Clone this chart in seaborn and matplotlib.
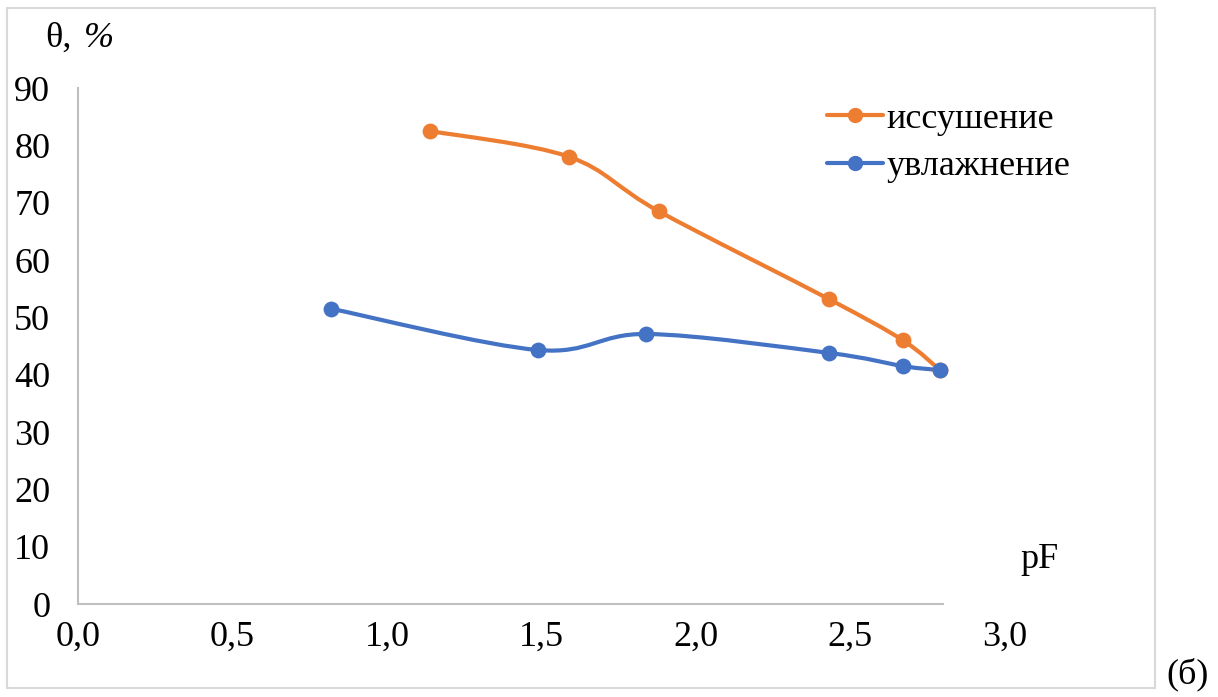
import numpy as np
import matplotlib
matplotlib.use("Agg")
import matplotlib.pyplot as plt
from matplotlib.path import Path
from matplotlib.patches import PathPatch, Rectangle
from matplotlib.lines import Line2D
import seaborn as sns

# data
pf_dry = [1.14, 1.59, 1.88, 2.43, 2.67, 2.79]
theta_dry = [82.5, 78.0, 68.5, 53.2, 46.0, 40.8]
pf_wet = [0.82, 1.49, 1.84, 2.43, 2.67, 2.79]
theta_wet = [51.5, 44.3, 47.1, 43.8, 41.5, 40.8]
x_ticks = [0.0, 0.5, 1.0, 1.5, 2.0, 2.5, 3.0]
y_ticks = [0, 10, 20, 30, 40, 50, 60, 70, 80, 90]
labels = ["иссушение", "увлажнение"]
colors = ["#ED7D31", "#4472C4"]

sns.set_style("white")
plt.rcParams["font.family"] = ["Liberation Serif", "DejaVu Serif"]
plt.rcParams["text.color"] = "black"
plt.rcParams["xtick.color"] = "black"
plt.rcParams["ytick.color"] = "black"


def smooth_path(xs, ys):
    """Excel-like smoothed line: cubic Bezier segments through the points."""
    pts = np.column_stack([xs, ys])
    p = np.vstack([pts[0], pts, pts[-1]])
    verts = [tuple(pts[0])]
    codes = [Path.MOVETO]
    for i in range(1, len(p) - 2):
        c1 = p[i] + (p[i + 1] - p[i - 1]) / 6
        c2 = p[i + 1] - (p[i + 2] - p[i]) / 6
        verts += [tuple(c1), tuple(c2), tuple(p[i + 1])]
        codes += [Path.CURVE4] * 3
    return Path(verts, codes)


fig = plt.figure(figsize=(12.18, 6.97), dpi=100)
ax = fig.add_axes([0.064, 0.1334, 0.761, 0.7403])

for xs, ys, c in [(pf_dry, theta_dry, colors[0]), (pf_wet, theta_wet, colors[1])]:
    ax.add_patch(PathPatch(smooth_path(xs, ys), facecolor="none", edgecolor=c,
                           lw=3.0, capstyle="round", zorder=2))
    sns.scatterplot(x=xs, y=ys, ax=ax, color=c, s=130, edgecolor=c,
                    linewidth=0, zorder=3, legend=False)

ax.set_xlim(0, 3.0)
ax.set_ylim(0, 90)
ax.set_xticks(x_ticks)
ax.set_xticklabels([f"{v:.1f}".replace(".", ",") for v in x_ticks])
ax.set_yticks(y_ticks)
ax.tick_params(axis="both", length=0, labelsize=26)
ax.tick_params(axis="y", pad=20)
ax.tick_params(axis="x", pad=12)

for s in ["top", "right"]:
    ax.spines[s].set_visible(False)
for s in ["left", "bottom"]:
    ax.spines[s].set_color("#BFBFBF")
    ax.spines[s].set_linewidth(1.5)
ax.spines["bottom"].set_bounds(0, 2.8)

handles = [Line2D([0], [0], color=c, lw=3.0, marker="o", markersize=10)
           for c in colors]
fig.legend(handles, labels, frameon=False, fontsize=26, loc="upper left",
           bbox_to_anchor=(0.679, 0.853), handlelength=1.55, handletextpad=0.1,
           labelspacing=0.4, borderaxespad=0.0, borderpad=0.0)

fig.text(0.037, 0.945, "θ,", fontsize=26, ha="left", va="center")
fig.text(0.069, 0.945, "%", fontsize=26, ha="left", va="center", style="italic")
fig.text(0.853, 0.197, "pF", fontsize=26, ha="center", va="center")
fig.text(0.975, 0.032, "(б)", fontsize=26, ha="center", va="center")

fig.patches.append(Rectangle((0.006, 0.013), 0.942, 0.975, transform=fig.transFigure,
                             fill=False, edgecolor="#D9D9D9", lw=1.5))

fig.savefig("out.png", dpi=100)
